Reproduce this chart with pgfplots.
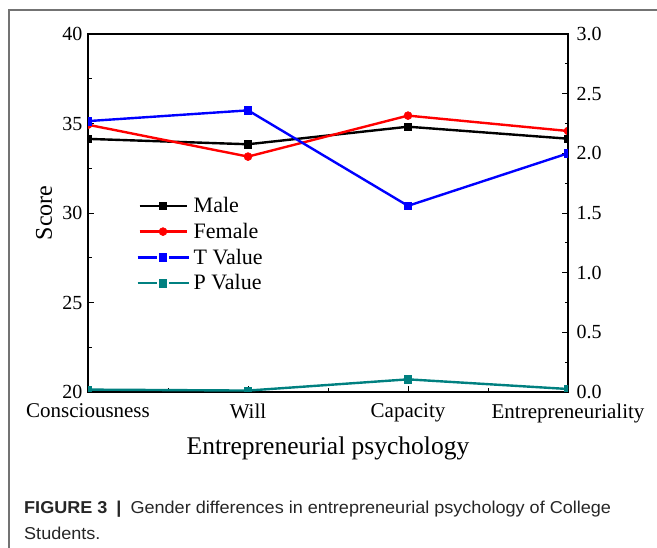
\documentclass[border=0pt]{standalone}
\usepackage{fontspec}
\setmainfont{Liberation Serif}
\newfontfamily\capfont[FakeStretch=1.05]{Liberation Sans}
\usepackage{pgfplots}
\pgfplotsset{compat=1.18}
\definecolor{pteal}{RGB}{0,128,128}
\definecolor{pblue}{RGB}{0,0,255}
\definecolor{pred}{RGB}{255,0,0}

\pgfplotstableread{
x male female tval pval
0 34.14 34.93 2.27 0.020
1 33.84 33.15 2.36 0.012
2 34.82 35.44 1.56 0.106
3 34.15 34.58 2.00 0.025
}\datatable

\pgfplotsset{
  common/.style={
    at={(88bp,156bp)}, anchor=south west, scale only axis,
    width=480bp, height=358bp,
    xmin=0, xmax=3,
    tick align=inside,
    major tick length=6bp, minor tick length=3.5bp,
    axis line style={line width=1.1bp},
    every tick/.style={black, line width=0.9bp},
    yticklabel style={font=\fontsize{20bp}{22bp}\selectfont},
    xticklabel style={font=\fontsize{21bp}{24bp}\selectfont, yshift=-8.5bp},
    /pgf/number format/assume math mode=true,
    clip marker paths=true,
  },
  serie/.style={line width=2.4bp, mark options={solid, line width=0.5bp}},
}

\begin{document}
\begin{tikzpicture}[x=1bp,y=1bp]
\useasboundingbox (0,0) rectangle (657,548);
\draw[black!55, line width=1.2bp] (9,0) -- (9,538) -- (657,538);

\begin{axis}[common,
  ymin=20, ymax=40,
  xtick={0,1,2,3}, xticklabels={Consciousness,Will,Capacity,Entrepreneuriality},
  minor xtick={0.5,1.5,2.5},
  ytick={20,25,30,35,40}, minor ytick={22.5,27.5,32.5,37.5},
  xtick pos=bottom, ytick pos=left,
  yticklabel style={xshift=-2bp},
  xlabel={Entrepreneurial psychology}, ylabel={Score},
  every axis x label/.style={at={(axis description cs:0.5,0)}, anchor=base, yshift=-63bp,
    font=\fontsize{25.5bp}{28bp}\selectfont},
  every axis y label/.style={at={(axis description cs:-0.0917,0.5)}, anchor=center, rotate=90,
    font=\fontsize{24bp}{28bp}\selectfont},
  legend style={draw=none, fill=none, at={(0.094,0.555)}, anchor=north west,
    font=\fontsize{22bp}{25bp}\selectfont, row sep=5bp,
    /tikz/every odd column/.append style={column sep=2bp}},
  legend cell align=left,
  legend image code/.code={\draw[mark repeat=2,mark phase=2] plot coordinates {(0bp,0bp)(23.5bp,0bp)(47bp,0bp)};},
]
\addplot[serie, black, mark=square*, mark size=3.7bp] table[x=x,y=male]{\datatable};
\addlegendentry{Male}
\addplot[serie, pred, mark=*, mark size=4bp] table[x=x,y=female]{\datatable};
\addlegendentry{Female}
\addlegendimage{serie, pblue, mark=square*, mark size=3.7bp,
  legend image code/.code={\draw (-2bp,0bp)--(17.5bp,0bp); \draw (29.5bp,0bp)--(49bp,0bp);
    \draw plot coordinates {(23.5bp,0bp)};}}
\addlegendentry{T Value}
\addlegendimage{serie, pteal, mark=square*, mark size=3.7bp,
  legend image code/.code={\draw (-2bp,0bp)--(17.5bp,0bp); \draw (29.5bp,0bp)--(49bp,0bp);
    \draw plot coordinates {(23.5bp,0bp)};}}
\addlegendentry{P Value}
\end{axis}

\begin{axis}[common,
  ymin=0, ymax=3,
  axis x line=none, axis y line*=right,
  ytick={0,0.5,1,1.5,2,2.5,3}, minor ytick={0.25,0.75,1.25,1.75,2.25,2.75},
  yticklabel style={xshift=5bp, /pgf/number format/fixed, /pgf/number format/fixed zerofill, /pgf/number format/precision=1},
]
\addplot[serie, pblue, mark=square*, mark size=3.7bp] table[x=x,y=tval]{\datatable};
\addplot[serie, pteal, mark=square*, mark size=3.7bp] table[x=x,y=pval]{\datatable};
\end{axis}

\node[anchor=base west, inner sep=0, text=black!85, font=\capfont\fontsize{17.2bp}{20bp}\selectfont] at (24,34.7)
  {\textbf{FIGURE 3}\hspace{9bp}\textbf{|}\hspace{9bp}Gender differences in entrepreneurial psychology of College};
\node[anchor=base west, inner sep=0, text=black!85, font=\capfont\fontsize{17.2bp}{20bp}\selectfont] at (24,8)
  {Students.};
\end{tikzpicture}
\end{document}
